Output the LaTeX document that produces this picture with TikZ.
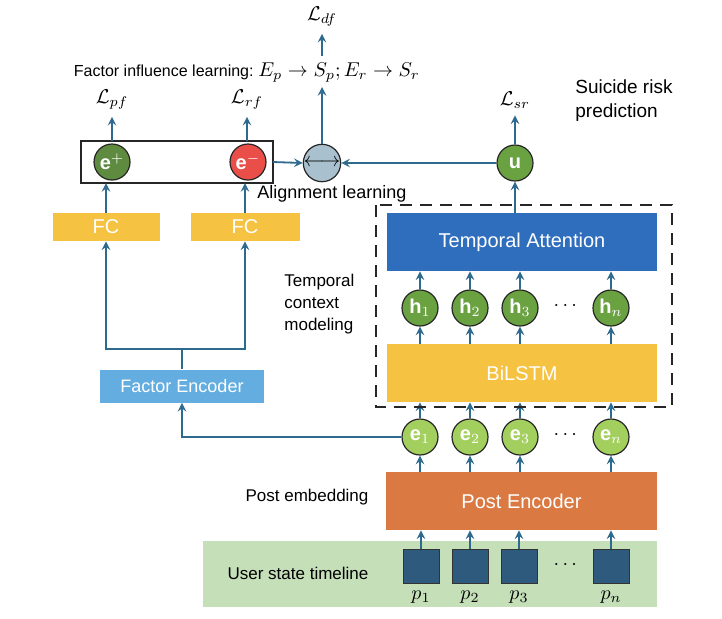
\documentclass[tikz,border=0pt]{standalone}
\usepackage{amsmath,amssymb}
\usepackage{fontspec}
\setmainfont{Liberation Sans}
\usetikzlibrary{arrows,positioning}
\definecolor{arrowblue}{HTML}{2E6A8E}
\definecolor{bggreen}{HTML}{C5DFB9}
\definecolor{postsq}{HTML}{2E5A7E}
\definecolor{postorange}{HTML}{DA7942}
\definecolor{lstmyellow}{HTML}{F5C242}
\definecolor{attblue}{HTML}{2F6EBD}
\definecolor{embgreen}{HTML}{A3CF5E}
\definecolor{hidgreen}{HTML}{6AA242}
\definecolor{posgreen}{HTML}{5E8B40}
\definecolor{negred}{HTML}{E94E49}
\definecolor{alignblue}{HTML}{A9C0CE}
\definecolor{factblue}{HTML}{63ADE0}
\tikzset{
        % Wide module boxes
        module/.style={rectangle, inner sep=0pt, text=white, font=\fontsize{10}{12}\selectfont},
        % Vector nodes
        vec/.style={circle, draw=black!85, line width=0.6pt, minimum size=18pt, inner sep=0pt, text=white},
        % Post squares
        post/.style={rectangle, draw=black!80, fill=postsq, minimum width=18pt, minimum height=17pt, inner sep=0pt},
        % Plain labels
        lbl/.style={inner sep=1pt, font=\fontsize{8}{10}\selectfont},
        conn/.style={->, >=stealth, arrowblue, line width=0.9pt}
}
\begin{document}
\begin{tikzpicture}[x=0.5pt, y=-0.5pt]
    \useasboundingbox (0,0) rectangle (722,618);
    % timeline background
    \fill[bggreen] (203,541) rectangle (657,607);
    \node[lbl, font=\fontsize{8.5}{10}\selectfont] (timeline) at (298,573) {User state timeline};
    % posts
    \foreach \i/\x/\t in {1/421/1, 2/470/2, 3/519/3, 4/611/n} {
        \node[post] (p\i) at (\x,566) {};
        \node[inner sep=0pt] (pl\i) at (\x,597) {$p_{\t}$};
    }
    \node (pdots) at (567,565) {$\cdots$};
    % post encoder
    \node[module, fill=postorange, minimum width=135.5pt, minimum height=29pt] (postenc) at (521.5,501) {Post Encoder};
    \node[lbl, font=\fontsize{8.5}{10}\selectfont] (postemb) at (307,497) {Post embedding};
    % embeddings
    \foreach \i/\x/\t in {1/420/1, 2/470/2, 3/520/3, 4/611/n} {
        \node[vec, fill=embgreen] (e\i) at (\x,437) {$\mathbf{e}_{\t}$};
        \draw[conn] (p\i.north) -- (postenc.south -| p\i);
        \draw[conn] (postenc.north -| e\i) -- (e\i.south);
    }
    \node (edots) at (567,435) {$\cdots$};
    % temporal context block
    \node[module, fill=lstmyellow, minimum width=135pt, minimum height=29pt] (bilstm) at (522,373) {BiLSTM};
    \node[module, fill=attblue, minimum width=135pt, minimum height=29pt] (tatt) at (522,242) {Temporal Attention};
    \foreach \i/\x/\t in {1/420/1, 2/470/2, 3/520/3, 4/611/n} {
        \node[vec, fill=hidgreen] (h\i) at (\x,308) {$\mathbf{h}_{\t}$};
        \draw[conn] (e\i.north) -- (bilstm.south -| e\i);
        \draw[conn] (bilstm.north -| h\i) -- (h\i.south);
        \draw[conn] (h\i.north) -- (tatt.south -| h\i);
    }
    \node (hdots) at (567,306) {$\cdots$};
    \draw[dashed, line width=1.4pt, black!85, dash pattern=on 6pt off 4pt] (376,205) rectangle (672,407);
    \node[lbl, align=left, anchor=west, font=\fontsize{8.5}{11}\selectfont] (tcm) at (282,304) {Temporal\\context\\modeling};
    % risk prediction
    \node[vec, fill=hidgreen] (u) at (515,163) {$\mathbf{u}$};
    \draw[conn] (tatt.north -| u) -- (u.south);
    \node (lsr) at (515,100) {$\mathcal{L}_{sr}$};
    \draw[conn] (u.north) -- (lsr.south);
    \node[lbl, align=left, anchor=west, font=\fontsize{9.5}{12}\selectfont] (srp) at (573,101) {Suicide risk\\prediction};
    % factor branch
    \node[module, fill=factblue, minimum width=82pt, minimum height=16.5pt, font=\fontsize{9}{11}\selectfont] (fenc) at (182,386) {Factor Encoder};
    \draw[conn] (e1.west) -| (fenc.south);
    \node[module, fill=lstmyellow, minimum width=53.5pt, minimum height=14pt] (fc1) at (106,227) {FC};
    \node[module, fill=lstmyellow, minimum width=54.5pt, minimum height=14pt] (fc2) at (245,227) {FC};
    \coordinate (split) at (182,349);
    \draw[arrowblue, line width=0.9pt] (fenc.north) -- (split);
    \draw[conn] (split) -| (fc1.south);
    \draw[conn] (split) -| (fc2.south);
    % factor vectors
    \draw[line width=0.8pt, black!85] (81,141) rectangle (273,183);
    \coordinate (fbox) at (273,162);
    \node[vec, fill=posgreen] (epos) at (112,162) {$\mathbf{e}^{+}$};
    \node[vec, fill=negred] (eneg) at (248,162) {$\mathbf{e}^{-}$};
    \draw[conn] (fc1.north) -- (106,183);
    \draw[conn] (fc2.north) -- (245,183);
    \node (lpf) at (112,100) {$\mathcal{L}_{pf}$};
    \node (lrf) at (247,100) {$\mathcal{L}_{rf}$};
    \draw[conn] (112,141) -- (lpf.south);
    \draw[conn] (247,141) -- (lrf.south);
    % alignment
    \node[vec, fill=alignblue, text=black] (align) at (322,163) {$\longleftrightarrow$};
    \draw[conn] (fbox) -- (align.west);
    \draw[conn] (u.west) -- (align.east);
    \node[lbl, font=\fontsize{9}{11}\selectfont] (alabel) at (332,194) {Alignment learning};
    % factor influence
    \node[lbl, anchor=east] (fil) at (256,72) {Factor influence learning:};
    \node[anchor=west, inner sep=1pt] (fmath) at (256,73) {$E_p \rightarrow S_p; E_r \rightarrow S_r$};
    \draw[conn] (align.north) -- (322,87);
    \node (ldf) at (322,17) {$\mathcal{L}_{df}$};
    \draw[conn] (322,56) -- (ldf.south);
\end{tikzpicture}
\end{document}
